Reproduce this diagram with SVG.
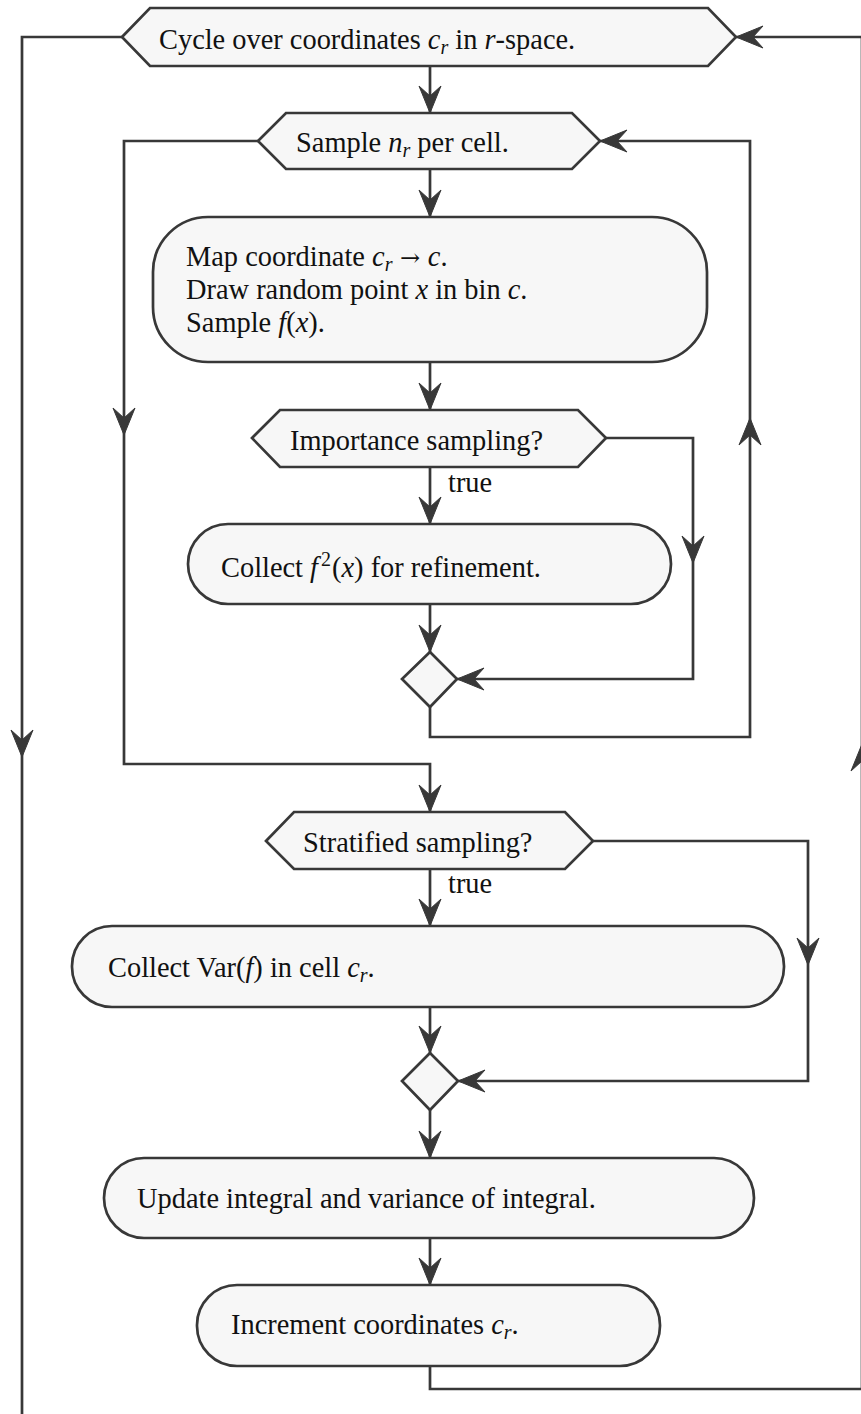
<svg xmlns="http://www.w3.org/2000/svg" xmlns:xlink="http://www.w3.org/1999/xlink" width="861" height="1414" viewBox="0 0 861 1414">
<style>
.n{fill:#f7f7f7;stroke:#383838;stroke-width:2.7;stroke-linejoin:miter}
.c{fill:none;stroke:#383838;stroke-width:2.7;stroke-linejoin:miter}
.t{font-family:"Liberation Serif","Times New Roman",serif;font-size:28.4px;fill:#111}
.i{font-style:italic}
.s{font-size:20px}
.ah{fill:#383838;stroke:#383838;stroke-width:1}
</style>
<defs>
<path id="ah" d="M0,0 L-27,-11 L-17,0 L-27,11 Z"/>
</defs>
<rect width="861" height="1414" fill="#ffffff"/>
<g id="connectors">
<path class="c" d="M430,66 V113"/>
<path class="c" d="M430,169 V217"/>
<path class="c" d="M430,362 V410"/>
<path class="c" d="M430,467 V524"/>
<path class="c" d="M430,604 V652"/>
<path class="c" d="M606,438 H693 V679 H457"/>
<path class="c" d="M430,707 V737 H750 V141 H600"/>
<path class="c" d="M258,141 H124 V764 H430 V812"/>
<path class="c" d="M593,841 H808 V1081 H458"/>
<path class="c" d="M430,869 V926"/>
<path class="c" d="M430,1007 V1053"/>
<path class="c" d="M430,1110 V1158"/>
<path class="c" d="M430,1238 V1285"/>
<path class="c" d="M430,1366 V1389 H862 V37 H736"/>
<path class="c" d="M122,37 H22 V1420"/>
<g class="ah">
<use xlink:href="#ah" transform="translate(430,113) rotate(90)"/>
<use xlink:href="#ah" transform="translate(430,217) rotate(90)"/>
<use xlink:href="#ah" transform="translate(430,410) rotate(90)"/>
<use xlink:href="#ah" transform="translate(430,524) rotate(90)"/>
<use xlink:href="#ah" transform="translate(430,652) rotate(90)"/>
<use xlink:href="#ah" transform="translate(693,563) rotate(90)"/>
<use xlink:href="#ah" transform="translate(457,679) rotate(180)"/>
<use xlink:href="#ah" transform="translate(750,418) rotate(-90)"/>
<use xlink:href="#ah" transform="translate(600,141) rotate(180)"/>
<use xlink:href="#ah" transform="translate(124,435) rotate(90)"/>
<use xlink:href="#ah" transform="translate(430,812) rotate(90)"/>
<use xlink:href="#ah" transform="translate(808,965) rotate(90)"/>
<use xlink:href="#ah" transform="translate(458,1081) rotate(180)"/>
<use xlink:href="#ah" transform="translate(430,926) rotate(90)"/>
<use xlink:href="#ah" transform="translate(430,1053) rotate(90)"/>
<use xlink:href="#ah" transform="translate(430,1158) rotate(90)"/>
<use xlink:href="#ah" transform="translate(430,1285) rotate(90)"/>
<use xlink:href="#ah" transform="translate(862,744) rotate(-90)"/>
<use xlink:href="#ah" transform="translate(736,37) rotate(180)"/>
<use xlink:href="#ah" transform="translate(22,757) rotate(90)"/>
</g>
<text class="t" x="448" y="492">true</text>
<text class="t" x="448" y="893">true</text>
</g>
<g id="cycle">
<polygon class="n" points="122,37 150,8 708,8 736,37 708,66 150,66"/>
<text class="t" x="159" y="49">Cycle over coordinates <tspan class="i">c</tspan><tspan class="i s" dy="5">r</tspan><tspan dy="-5"> in </tspan><tspan class="i">r</tspan>-space.</text>
</g>
<g id="sample">
<polygon class="n" points="258,141 286,113 572,113 600,141 572,169 286,169"/>
<text class="t" x="296" y="152">Sample <tspan class="i">n</tspan><tspan class="i s" dy="5">r</tspan><tspan dy="-5"> per cell.</tspan></text>
</g>
<g id="map">
<rect class="n" x="153" y="217" width="554" height="145" rx="55" ry="55"/>
<text class="t" x="186" y="266">Map coordinate <tspan class="i">c</tspan><tspan class="i s" dy="5">r</tspan><tspan dy="-5" font-family="DejaVu Serif" font-size="24"> → </tspan><tspan class="i">c</tspan>.</text>
<text class="t" x="186" y="299">Draw random point <tspan class="i">x</tspan> in bin <tspan class="i">c</tspan>.</text>
<text class="t" x="186" y="332">Sample <tspan class="i">f</tspan>(<tspan class="i">x</tspan>).</text>
</g>
<g id="importance">
<polygon class="n" points="252,438 280,410 578,410 606,438 578,467 280,467"/>
<text class="t" x="290" y="450">Importance sampling?</text>
</g>
<g id="collect-f2">
<rect class="n" x="188" y="524" width="483" height="80" rx="40" ry="40"/>
<text class="t" x="221" y="577">Collect <tspan class="i">f</tspan><tspan class="s" dx="3" dy="-11">2</tspan><tspan dx="1" dy="11">(</tspan><tspan class="i">x</tspan>) for refinement.</text>
</g>
<g id="merge1">
<polygon class="n" points="430,652 457,679 430,707 402,679"/>
</g>
<g id="stratified">
<polygon class="n" points="266,841 294,812 565,812 593,841 565,869 294,869"/>
<text class="t" x="303" y="852">Stratified sampling?</text>
</g>
<g id="collect-var">
<rect class="n" x="72" y="926" width="712" height="81" rx="40" ry="40"/>
<text class="t" x="108" y="977">Collect Var(<tspan class="i">f</tspan>) in cell <tspan class="i">c</tspan><tspan class="i s" dy="5">r</tspan><tspan dy="-5">.</tspan></text>
</g>
<g id="merge2">
<polygon class="n" points="430,1053 458,1081 430,1110 402,1081"/>
</g>
<g id="update">
<rect class="n" x="104" y="1158" width="650" height="80" rx="40" ry="40"/>
<text class="t" x="137" y="1208">Update integral and variance of integral.</text>
</g>
<g id="increment">
<rect class="n" x="197" y="1285" width="463" height="81" rx="40" ry="40"/>
<text class="t" x="231" y="1334">Increment coordinates <tspan class="i">c</tspan><tspan class="i s" dy="5">r</tspan><tspan dy="-5">.</tspan></text>
</g>
</svg>
